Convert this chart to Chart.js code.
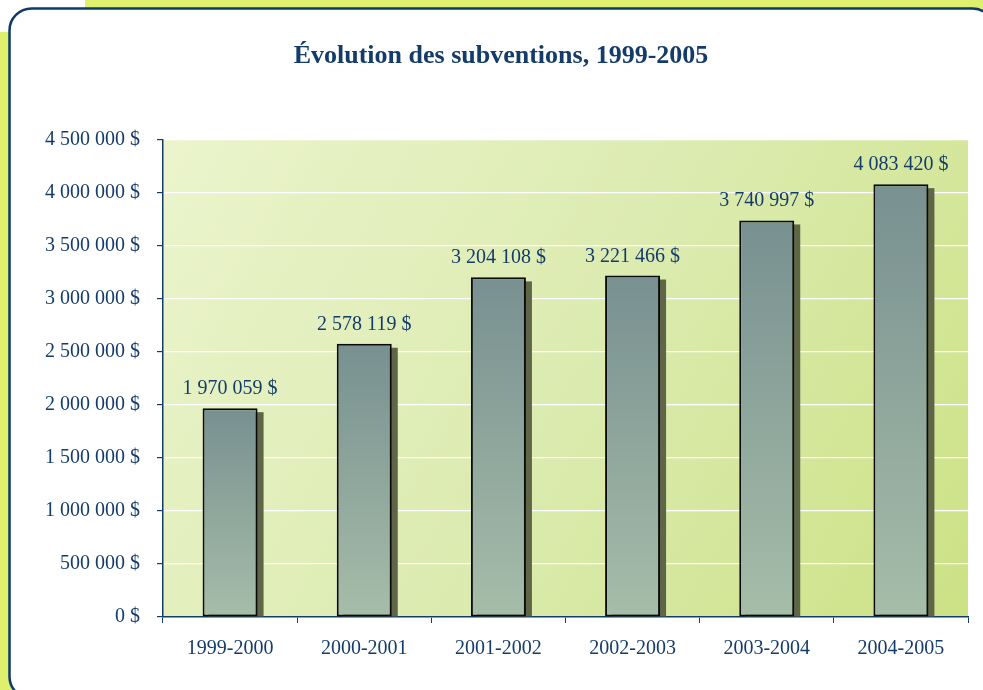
<!DOCTYPE html>
<html>
<head>
<meta charset="utf-8">
<script src="https://cdn.jsdelivr.net/npm/chart.js@4/dist/chart.umd.min.js"></script>
<style>
  html, body { margin: 0; padding: 0; background: #fff; }
  #wrap { position: relative; width: 983px; height: 690px; }
</style>
</head>
<body>
<div id="wrap"><canvas id="c" width="983" height="690"></canvas></div>
<script>
var categories = ['1999-2000', '2000-2001', '2001-2002', '2002-2003', '2003-2004', '2004-2005'];
var subventions = [1970059, 2578119, 3204108, 3221466, 3740997, 4083420];
var yMax = 4500000;
var yStep = 500000;

var NAVY = '#143c6b';
var FONT = '"Liberation Serif", "DejaVu Serif", serif';

function fmt(v) {
  return String(v).replace(/\B(?=(\d{3})+(?!\d))/g, ' ') + ' $';
}

// --- background: strips, panel, plot area ---
var backdrop = {
  id: 'backdrop',
  beforeDraw: function (chart) {
    var ctx = chart.ctx;
    var a = chart.chartArea;
    ctx.save();
    ctx.fillStyle = '#fff';
    ctx.fillRect(0, 0, chart.width, chart.height);
    ctx.fillStyle = '#dff06e';
    ctx.fillRect(85, 0, chart.width - 85, 10);
    ctx.fillRect(0, 32, 12, chart.height - 32);

    // rounded panel
    ctx.beginPath();
    ctx.roundRect(9.5, 8.5, 985, 690, 22);
    ctx.fillStyle = '#fff';
    ctx.fill();
    ctx.lineWidth = 2.5;
    ctx.strokeStyle = '#0b3a6b';
    ctx.stroke();

    // plot area gradient
    var g = ctx.createLinearGradient(a.left, a.top, a.right, a.bottom);
    g.addColorStop(0, '#ebf4cc');
    g.addColorStop(0.5, '#dcebb0');
    g.addColorStop(1, '#cce285');
    ctx.fillStyle = g;
    ctx.fillRect(a.left, a.top, a.right - a.left, a.bottom - a.top);

    // title
    ctx.fillStyle = NAVY;
    ctx.font = 'bold 26px ' + FONT;
    ctx.textAlign = 'center';
    ctx.textBaseline = 'middle';
    ctx.fillText('Évolution des subventions, 1999-2005', 501, 56);
    ctx.restore();
  },
  // drop shadow behind bars
  beforeDatasetsDraw: function (chart) {
    var ctx = chart.ctx;
    var meta = chart.getDatasetMeta(0);
    ctx.save();
    ctx.fillStyle = '#5f6647';
    meta.data.forEach(function (bar) {
      var w = bar.width;
      ctx.fillRect(bar.x - w / 2 + 6, bar.y + 4, w, bar.base - bar.y - 4);
    });
    ctx.restore();
  },
  afterDatasetsDraw: function (chart) {
    var ctx = chart.ctx;
    var meta = chart.getDatasetMeta(0);
    ctx.save();
    ctx.fillStyle = NAVY;
    ctx.font = '20px ' + FONT;
    ctx.textAlign = 'center';
    ctx.textBaseline = 'alphabetic';
    meta.data.forEach(function (bar, i) {
      ctx.fillText(fmt(subventions[i]), bar.x, bar.y - 14);
    });
    ctx.restore();
  }
};

new Chart(document.getElementById('c').getContext('2d'), {
  type: 'bar',
  data: {
    labels: categories,
    datasets: [{
      data: subventions,
      backgroundColor: function (c) {
        var chart = c.chart;
        if (!chart.chartArea || c.parsed === undefined) return '#8aa39c';
        var y = chart.scales.y;
        var top = y.getPixelForValue(c.parsed.y);
        var g = chart.ctx.createLinearGradient(0, top, 0, y.getPixelForValue(0));
        g.addColorStop(0, '#789090');
        g.addColorStop(1, '#a6bda9');
        return g;
      },
      borderColor: '#0a0a0a',
      borderWidth: 2,
      borderSkipped: false,
      barPercentage: 0.41,
      categoryPercentage: 1
    }]
  },
  plugins: [backdrop],
  options: {
    responsive: false,
    animation: false,
    devicePixelRatio: 1,
    layout: { padding: { top: 140, right: 15, left: 0, bottom: 0 } },
    scales: {
      x: {
        offset: true,
        grid: { offset: true, drawOnChartArea: false, tickLength: 6, tickColor: NAVY, lineWidth: 1 },
        border: { color: NAVY, width: 1.5 },
        ticks: { color: NAVY, font: { family: FONT, size: 20 }, padding: 14 },
        afterFit: function (s) { s.height = 73; }
      },
      y: {
        min: 0,
        max: yMax,
        grid: { color: '#ffffff', lineWidth: 1.2, tickLength: 6, tickColor: NAVY },
        border: { color: NAVY, width: 1.5 },
        ticks: {
          stepSize: yStep,
          color: NAVY,
          padding: 17,
          font: { family: FONT, size: 20 },
          callback: function (v) { return fmt(v); }
        },
        afterFit: function (s) { s.width = 163; }
      }
    },
    plugins: {
      legend: { display: false },
      tooltip: { enabled: false },
      title: { display: false }
    }
  }
});
</script>
</body>
</html>
